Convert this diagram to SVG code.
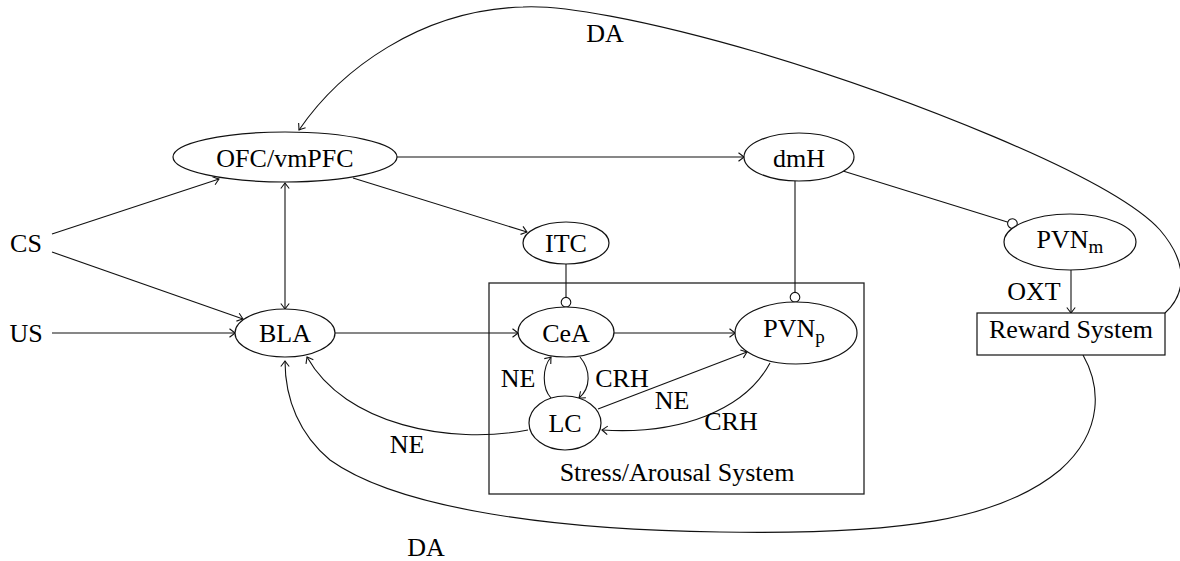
<svg xmlns="http://www.w3.org/2000/svg" width="1180" height="561" viewBox="0 0 1180 561">
<style>
text{font-family:"Liberation Serif","Times New Roman",serif;font-size:26px;fill:#000;text-anchor:middle}
.sub{font-size:19px}
.node{fill:#fff;stroke:#111;stroke-width:1.2}
.box{fill:none;stroke:#222;stroke-width:1.3}
.e{fill:none;stroke:#111;stroke-width:1.1}
.a{marker-end:url(#arr)}
.c{marker-end:url(#circ)}
</style>
<defs>
<marker id="arr" markerUnits="userSpaceOnUse" viewBox="-8 -6 10 12" markerWidth="10" markerHeight="12" refX="0" refY="0" orient="auto-start-reverse">
<path d="M-5.5,-4.2 Q-1.6,-1.2 0,0 Q-1.6,1.2 -5.5,4.2" fill="none" stroke="#111" stroke-width="1.1"/>
</marker>
<marker id="circ" markerUnits="userSpaceOnUse" viewBox="-11 -6 12 12" markerWidth="12" markerHeight="12" refX="0" refY="0" orient="auto">
<circle cx="-4.8" cy="0" r="4.8" fill="#fff" stroke="#111" stroke-width="1.1"/>
</marker>
</defs>
<rect id="stress" class="box" x="489" y="283" width="375" height="211"/>
<text x="677" y="481">Stress/Arousal System</text>
<g id="connectors">
<line class="e a" x1="52" y1="234" x2="219" y2="179"/>
<line class="e a" x1="52" y1="252" x2="243" y2="319"/>
<line class="e a" x1="52" y1="333" x2="235" y2="333"/>
<line class="e a" x1="285" y1="183" x2="285" y2="309" style="marker-start:url(#arr)"/>
<line class="e a" x1="397" y1="157" x2="744" y2="157"/>
<line class="e a" x1="353" y1="178" x2="527" y2="232"/>
<line class="e c" x1="566" y1="264" x2="566" y2="307"/>
<line class="e c" x1="795" y1="181" x2="795" y2="302"/>
<line class="e c" x1="843" y1="171" x2="1017" y2="225"/>
<line class="e a" x1="1071" y1="270" x2="1071" y2="313"/>
<line class="e a" x1="335" y1="333" x2="518" y2="333"/>
<line class="e a" x1="614" y1="333" x2="735" y2="333"/>
<path class="e a" d="M580,357 C591,370 591,388 579,398"/>
<path class="e a" d="M551,398 C542,388 542,368 551,357"/>
<line class="e a" x1="598" y1="409" x2="747" y2="352"/>
<path class="e a" d="M770,363 C745,410 680,435 602,430"/>
<path class="e a" d="M528,430 C450,445 345,425 307,357"/>
<path class="e a" d="M1083,355 C1100,385 1105,430 1060,470 C1000,520 900,535 720,532 C560,530 400,510 330,460 C300,435 285,400 285,361"/>
<path class="e a" d="M1165,313 C1185,295 1190,265 1160,230 C1110,175 900,95 760,53 C640,18 560,5 523,7 C420,10 340,70 299,130"/>
<text x="605" y="42">DA</text>
<text x="518" y="387">NE</text>
<text x="622" y="387">CRH</text>
<text x="672" y="409">NE</text>
<text x="731" y="430">CRH</text>
<text x="407" y="453">NE</text>
<text x="1034" y="300">OXT</text>
<text x="426" y="556">DA</text>
</g>
<g id="CS"><text x="26" y="252">CS</text></g>
<g id="US"><text x="26" y="342">US</text></g>
<g id="OFC"><ellipse class="node" cx="285" cy="157" rx="112" ry="25"/><text x="285" y="167">OFC/vmPFC</text></g>
<g id="dmH"><ellipse class="node" cx="799" cy="157" rx="55" ry="24"/><text x="799" y="167">dmH</text></g>
<g id="ITC"><ellipse class="node" cx="566" cy="243" rx="43" ry="21"/><text x="566" y="252">ITC</text></g>
<g id="BLA"><ellipse class="node" cx="285" cy="333" rx="50" ry="24"/><text x="285" y="342">BLA</text></g>
<g id="CeA"><ellipse class="node" cx="566" cy="332" rx="48" ry="25"/><text x="566" y="342">CeA</text></g>
<g id="PVNp"><ellipse class="node" cx="796" cy="333" rx="61" ry="31"/><text x="794" y="337">PVN<tspan class="sub" dy="6">p</tspan></text></g>
<g id="LC"><ellipse class="node" cx="565" cy="423" rx="36" ry="27"/><text x="565" y="432">LC</text></g>
<g id="PVNm"><ellipse class="node" cx="1070" cy="242" rx="66" ry="28"/><text x="1070" y="248">PVN<tspan class="sub" dy="5">m</tspan></text></g>
<g id="Reward"><rect class="node" x="977" y="313" width="188" height="42"/><text x="1071" y="338">Reward System</text></g>
</svg>
